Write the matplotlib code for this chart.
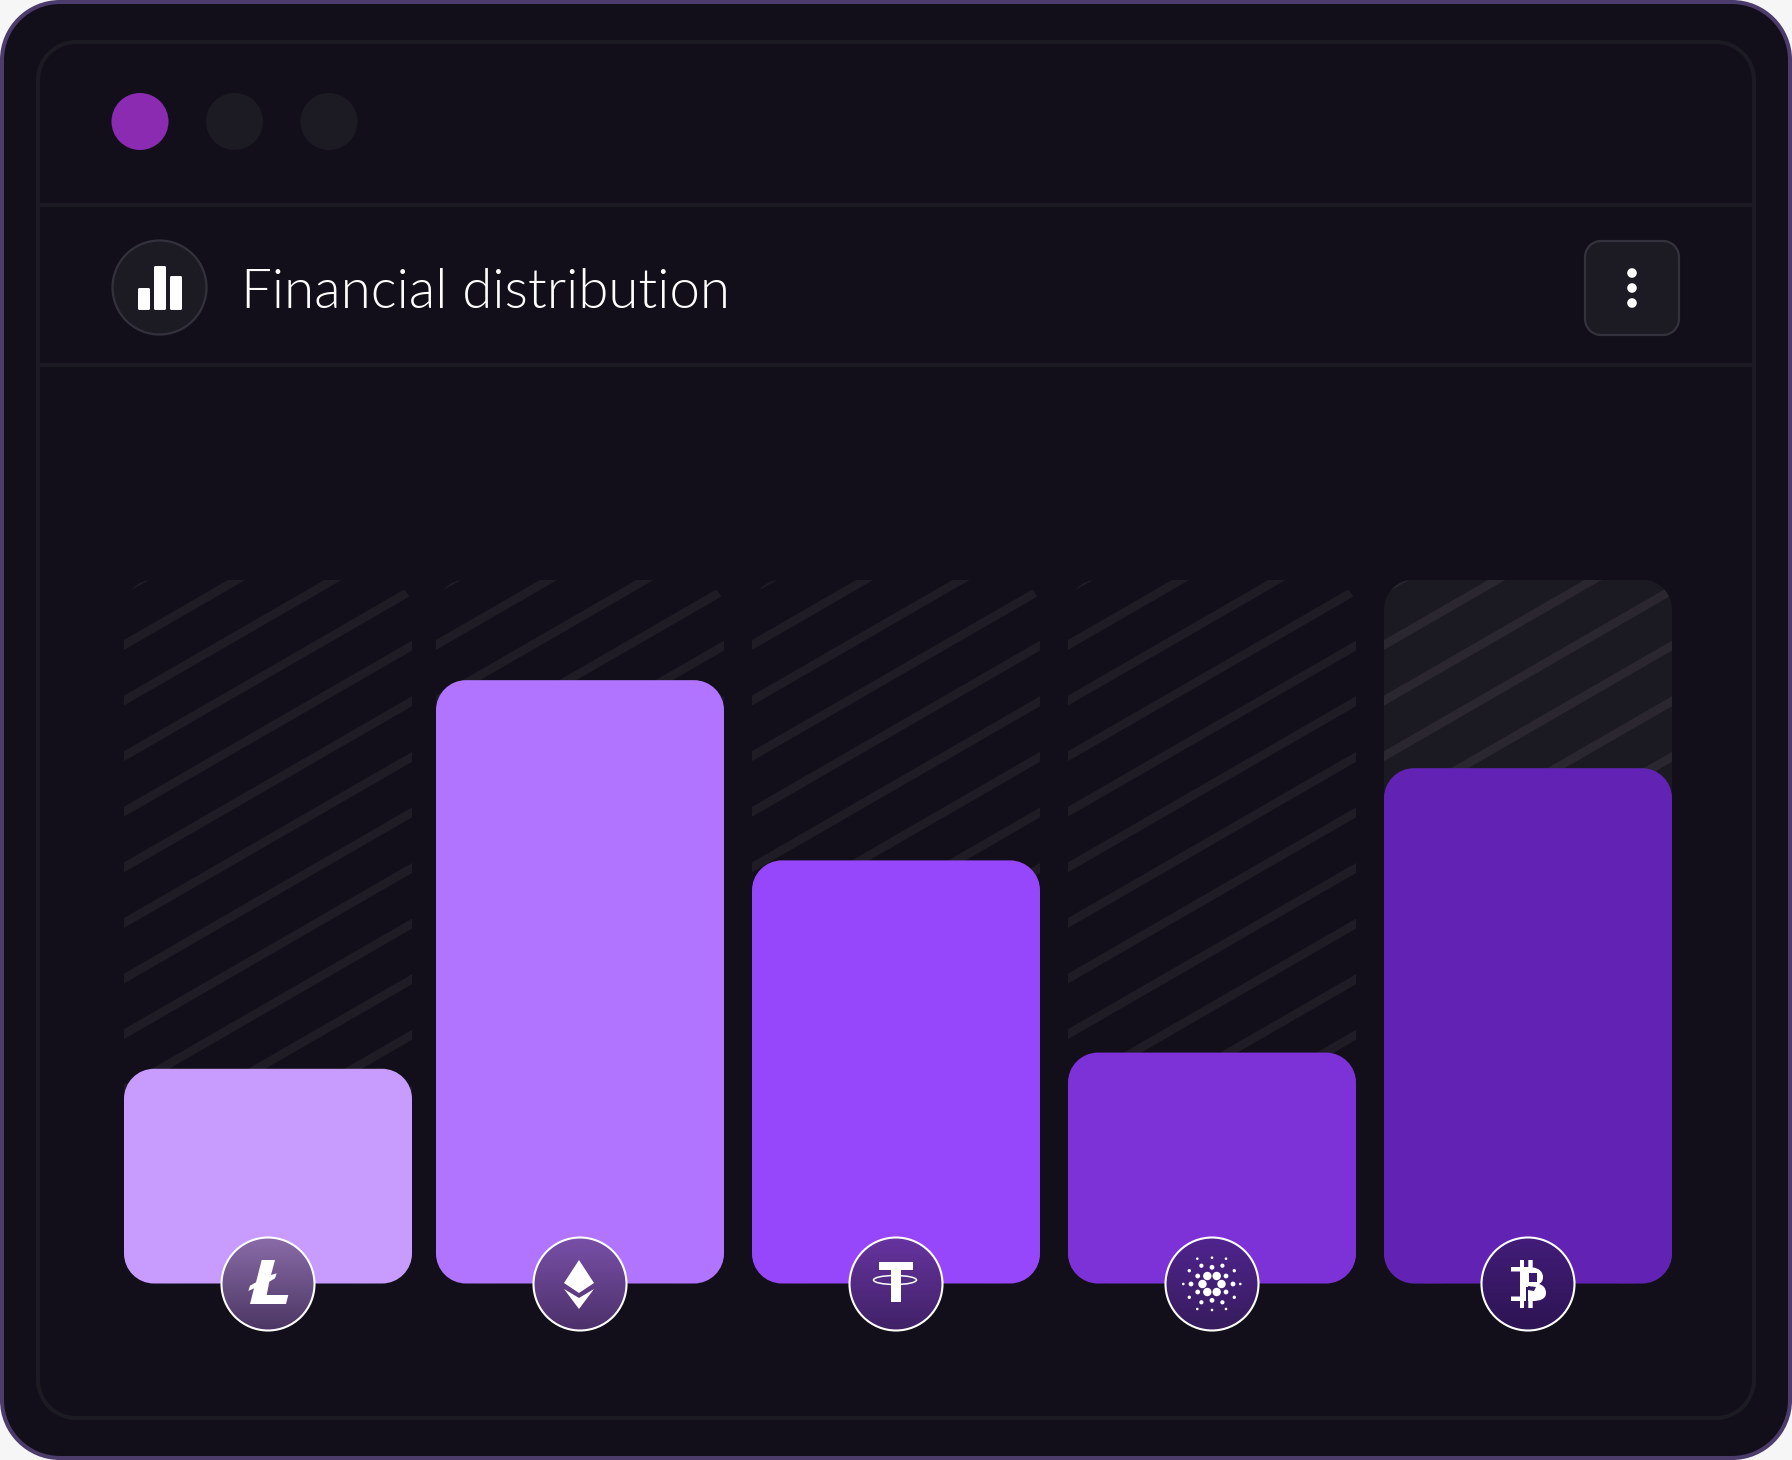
import numpy as np
import matplotlib
matplotlib.use("Agg")
import matplotlib.pyplot as plt
from matplotlib import font_manager
from matplotlib.patches import Circle, PathPatch, Polygon, Rectangle, Ellipse
from matplotlib.path import Path

W, H = 1792, 1460

CARD = "#120f1a"
BORDER = "#4b3c6c"
LINE = "#1c1a23"

# chart data (share of the striped track)
coins = ["Litecoin", "Ethereum", "Tether", "Cardano", "Bitcoin"]
values = [30.5, 85.7, 60.1, 32.8, 73.2]
bar_colors = ["#c79bff", "#b174ff", "#9747fb", "#7d32d8", "#6222b4"]
badge_top = ["#8a6ca8", "#7850a8", "#66349f", "#50248f", "#421d7a"]
badge_bottom = ["#4b3663", "#4c3069", "#402166", "#361c5c", "#2d1452"]


def rrect(ax, x0, y0, x1, y1, rx, ry=None, **kw):
    # rounded box with true quarter circle corners, rx/ry in data units
    ry = rx if ry is None else ry
    k = 0.5523
    C, L = Path.CURVE4, Path.LINETO
    verts = [(x0 + rx, y0), (x1 - rx, y0),
             (x1 - rx + k * rx, y0), (x1, y0 + ry - k * ry), (x1, y0 + ry),
             (x1, y1 - ry),
             (x1, y1 - ry + k * ry), (x1 - rx + k * rx, y1), (x1 - rx, y1),
             (x0 + rx, y1),
             (x0 + rx - k * rx, y1), (x0, y1 - ry + k * ry), (x0, y1 - ry),
             (x0, y0 + ry),
             (x0, y0 + ry - k * ry), (x0 + rx - k * rx, y0), (x0 + rx, y0),
             (x0 + rx, y0)]
    codes = [Path.MOVETO, L, C, C, C, L, C, C, C, L, C, C, C, L, C, C, C, Path.CLOSEPOLY]
    p = PathPatch(Path(verts, codes), **kw)
    ax.add_patch(p)
    return p


def title_font():
    for f in font_manager.fontManager.ttflist:
        if "Lato-Light." in f.fname:
            return font_manager.FontProperties(fname=f.fname, size=39.45)
    return font_manager.FontProperties(family="Open Sans", weight="light", size=39.45)


def draw_chrome(ax):
    # outer card and inner frame
    ax.add_patch(Rectangle((0, 0), W, H, fc="#f6f6f6", ec="none"))
    rrect(ax, 2, 2, W - 2, H - 2, 58, fc=CARD, ec=BORDER, lw=2.9)
    rrect(ax, 38, 42, 1754, 1418, 38, fc="none", ec=LINE, lw=2.9)
    for y in [205, 365]:
        ax.plot([38, 1754], [y, y], color=LINE, lw=2.9, solid_capstyle="butt")

    # window dots
    ax.add_patch(Circle((140, 121.5), 28.5, fc="#8a2bb2", ec="none"))
    ax.add_patch(Circle((234.5, 121.5), 28.5, fc="#1c1a23", ec="none"))
    ax.add_patch(Circle((329, 121.5), 28.5, fc="#1c1a23", ec="none"))

    # header icon
    ax.add_patch(Circle((159.5, 287.5), 47, fc="#1c1a23", ec="#33313b", lw=1.6))
    for x0, x1, top in [(138, 150, 288), (154, 166, 266), (170, 182, 276)]:
        rrect(ax, x0, top, x1, 310, 1.5, fc="white", ec="none")

    ax.text(241, 308, "Financial distribution", color="white", fontproperties=title_font(),
            va="baseline", ha="left")

    # menu button
    rrect(ax, 1585, 241, 1679, 335, 16, fc="#1c1a23", ec="#33313b", lw=1.6)
    for y in [273, 288, 303]:
        ax.add_patch(Circle((1632, y), 4.8, fc="white", ec="none"))


def draw_litecoin(ax, cx, cy):
    pts = [(-6.3, -24), (7, -24), (3, -9), (8.7, -10.7), (7, -5.7), (1.3, -2.3), (-1.3, 11), (20.3, 11),
           (18, 20), (-18, 20), (-14, 4.3), (-19.7, 7), (-18, 1.7), (-12, -1.7)]
    ax.add_patch(Polygon([(cx + x, cy + y) for x, y in pts], fc="white", ec="none"))


def draw_ethereum(ax, cx, cy):
    up = [(-1, -24), (14, -1), (-1, 9), (-16, -1)]
    low = [(-16, 5), (-1, 14), (14, 5), (-1, 25)]
    for pts in (up, low):
        ax.add_patch(Polygon([(cx + x, cy + y) for x, y in pts], fc="white", ec="none"))


def draw_tether(ax, cx, cy):
    ax.add_patch(Rectangle((cx - 17.5, cy - 22), 34.5, 8, fc="white", ec="none"))
    ax.add_patch(Rectangle((cx - 5.5, cy - 14), 10, 32, fc="white", ec="none"))
    ax.add_patch(Ellipse((cx - 1, cy - 4), 43, 9, fc="none", ec="white", lw=1.1))


def draw_cardano(ax, cx, cy):
    big = [(-9.5, 0), (9.5, 0), (-4.7, -8), (4.7, -8), (-4.7, 8), (4.7, 8)]
    med = [(-14.3, -8), (14, -8), (-14.3, 8), (14, 8), (0, -16.7), (0, 16.3), (-21, 0), (21, 0)]
    med2 = [(-10.6, -18.3), (10.4, -18.3), (-10.6, 18.3), (10.4, 18.3)]
    sm = [(-22.7, -13.3), (22.3, -13.3), (-22.7, 13.3), (22.3, 13.3)]
    tiny = [(-28.7, 0), (28.3, 0), (0, -26.3), (0, 26), (-14.7, -25.3), (14, -25.3), (-14.7, 25), (14, 25)]
    for group, r in [(big, 4.2), (med, 2.4), (med2, 2.1), (sm, 1.7), (tiny, 1.3)]:
        for x, y in group:
            ax.add_patch(Circle((cx + x, cy + y), r, fc="white", ec="none"))


def draw_bitcoin(ax, cx, cy):
    L, C = Path.LINETO, Path.CURVE4
    verts = [(-17, -17), (-8, -17), (-8, -24), (-4, -24), (-4, -17), (0.3, -17), (0.3, -24), (4.7, -24), (4.7, -16.5),
             (11, -16), (15, -12), (15, -7), (15, -3), (13, -1), (11, 0),
             (15, 1), (18, 4), (18, 9), (18, 15), (12, 17), (4.7, 17),
             (4.7, 24), (0.3, 24), (0.3, 17), (-4, 17), (-4, 24), (-8, 24), (-8, 17), (-17, 17), (-17, 12.5), (-8, 12.5), (-8, -12.5), (-17, -12.5), (-17, -17)]
    codes = [Path.MOVETO] + [L] * 8 + [C] * 6 + [C] * 6 + [L] * 12 + [Path.CLOSEPOLY]
    ax.add_patch(PathPatch(Path([(cx + x, cy + y) for x, y in verts], codes), fc="white", ec="none"))
    # counter of the upper bowl and the slit through the lower one
    ax.add_patch(Rectangle((cx + 1.3, cy - 10.7), 7.2, 8.4, fc="#391a6c", ec="none"))
    ax.add_patch(Rectangle((cx - 2, cy + 2.7), 2.3, 18.3, fc="#331765", ec="none"))
    ax.add_patch(Polygon([(cx, cy + 2), (cx + 8, cy + 3), (cx + 6, cy + 7), (cx, cy + 6)], fc="#351868", ec="none"))


def draw_chart(ax):
    # x axis in px, y axis in value units
    base = 1283.5
    units = 704 / 100.0  # px per value unit
    bar_w = 288
    radius = 30
    lefts = [124] + [436 + 316 * i for i in range(4)]
    for i, (v, c) in enumerate(zip(values, bar_colors)):
        x0 = lefts[i]
        x1 = x0 + bar_w
        highlighted = i == 4
        track = rrect(ax, x0, 0, x1, 100, radius, radius / units,
                      fc="#1b1922" if highlighted else CARD, ec="none", zorder=1)
        stripe_col = "#2a2730" if highlighted else "#1f1c26"
        for k in range(-1, 17):
            y_px = 645 + 55.6 * k
            # run past both edges so the track clip cuts the ends
            v0 = (base - (y_px + 20 * 0.577)) / units
            v1 = (base - (y_px - (bar_w + 20) * 0.577)) / units
            ln, = ax.plot([x0 - 20, x1 + 20], [v0, v1], color=stripe_col, lw=6.2,
                          solid_capstyle="butt", zorder=2)
            ln.set_clip_path(track)
        rrect(ax, x0, 0, x1, v, radius, radius / units, fc=c, ec="none", zorder=3)


def draw_badges(ax):
    glyphs = [draw_litecoin, draw_ethereum, draw_tether, draw_cardano, draw_bitcoin]
    centers = [268, 580, 896, 1212, 1528]
    cy = 1284
    r = 47
    for cx, top, bottom, glyph in zip(centers, badge_top, badge_bottom, glyphs):
        c0 = np.array(matplotlib.colors.to_rgb(top))
        c1 = np.array(matplotlib.colors.to_rgb(bottom))
        t = np.linspace(0, 1, 100)[:, None, None]
        grad = c0[None, None, :] * (1 - t) + c1[None, None, :] * t
        im = ax.imshow(grad, extent=(cx - r, cx + r, cy + r, cy - r), zorder=5, aspect="auto")
        clip = Circle((cx, cy), r, transform=ax.transData)
        im.set_clip_path(clip)
        ax.add_patch(Circle((cx, cy), r - 0.5, fc="none", ec="white", lw=1.5, zorder=6))
        n = len(ax.patches)
        glyph(ax, cx, cy)
        for p in ax.patches[n:]:
            p.set_zorder(7)


fig = plt.figure(figsize=(W / 100, H / 100), dpi=100)
ax_bg = fig.add_axes([0, 0, 1, 1])
ax_bg.set_xlim(0, W)
ax_bg.set_ylim(H, 0)
ax_bg.axis("off")
draw_chrome(ax_bg)

ax_chart = fig.add_axes([0, (H - 1283.5) / H, 1, 704 / H])
ax_chart.set_xlim(0, W)
ax_chart.set_ylim(0, 100)
ax_chart.axis("off")
ax_chart.patch.set_alpha(0)
draw_chart(ax_chart)

ax_top = fig.add_axes([0, 0, 1, 1])
ax_top.set_xlim(0, W)
ax_top.set_ylim(H, 0)
ax_top.axis("off")
ax_top.patch.set_alpha(0)
draw_badges(ax_top)
ax_top.set_xlim(0, W)
ax_top.set_ylim(H, 0)

fig.savefig("out.png", dpi=100)
